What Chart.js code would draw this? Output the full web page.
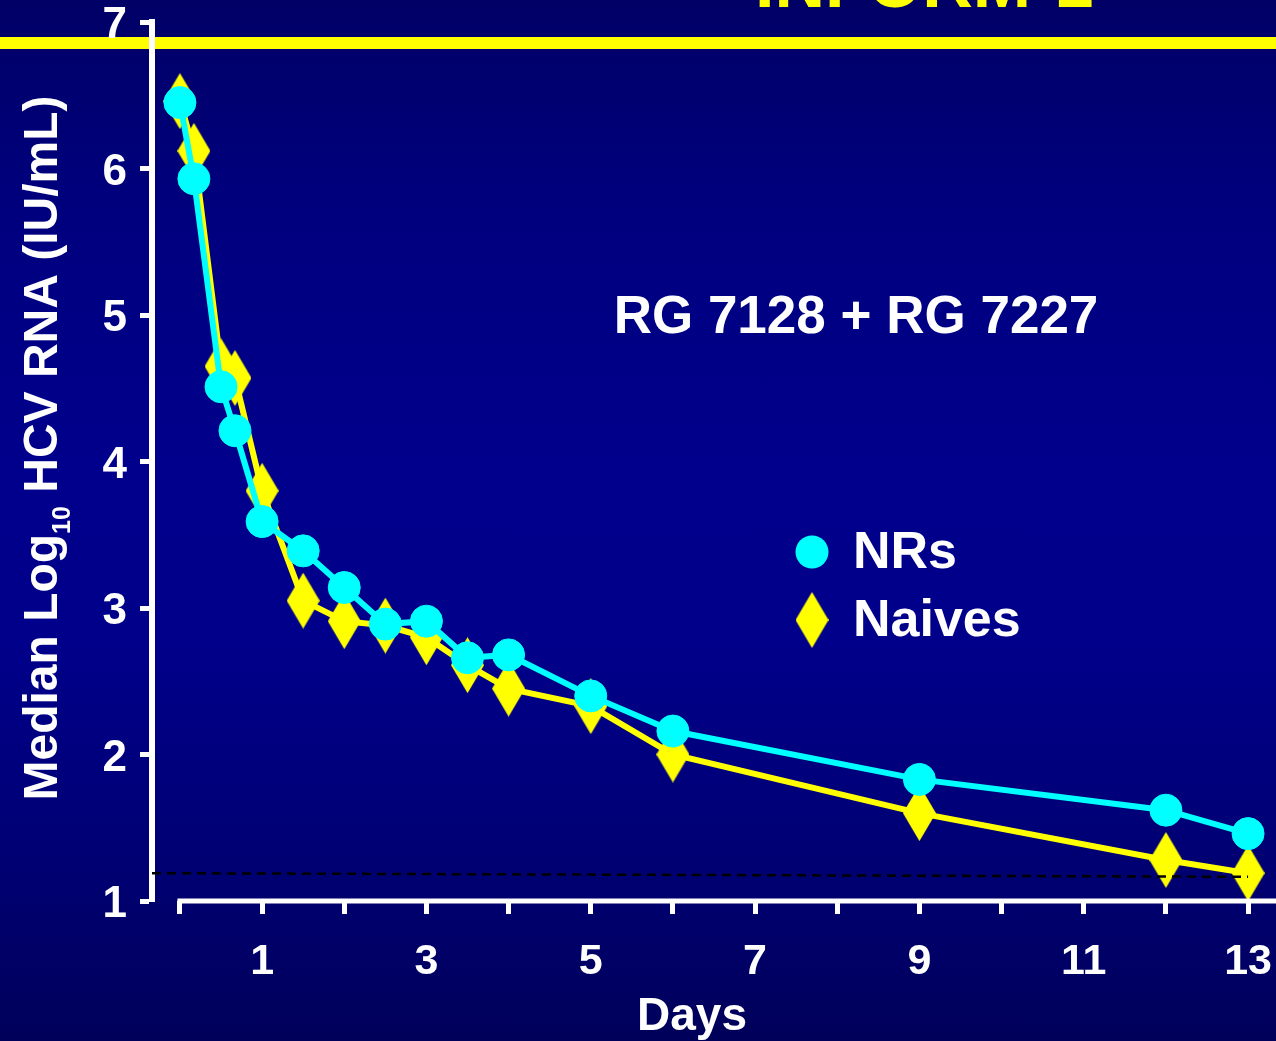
<!DOCTYPE html>
<html>
<head>
<meta charset="utf-8">
<script src="https://cdn.jsdelivr.net/npm/chart.js@4.4.1/dist/chart.umd.min.js"></script>
<style>
  html, body { margin: 0; padding: 0; }
  body {
    width: 1276px; height: 1041px; overflow: hidden;
    background: linear-gradient(to bottom, #000066 0%, #00007e 20%, #00008c 45%, #00008a 62%, #000070 85%, #00005a 100%);
  }
  canvas { display: block; }
</style>
</head>
<body>
<canvas id="chart" width="1276" height="1041"></canvas>
<script>
// Данные графика
const days = [0, 0.17, 0.5, 0.67, 1, 1.5, 2, 2.5, 3, 3.5, 4, 5, 6, 9, 12, 13];
const nrValues = [6.45, 5.93, 4.51, 4.21, 3.59, 3.39, 3.14, 2.89, 2.91, 2.66, 2.68, 2.40, 2.16, 1.83, 1.62, 1.46];
const naiveValues = [6.46, 6.12, 4.65, 4.57, 3.80, 3.05, 2.91, 2.88, 2.80, 2.61, 2.45, 2.33, 2.00, 1.60, 1.28, 1.19];
const lloqDays = [-0.34, 13];
const lloqValues = [1.19, 1.165];
const xTicks = [0, 1, 2, 3, 4, 5, 6, 7, 8, 9, 10, 11, 12, 13];
const xTickLabels = ['', '1', '', '3', '', '5', '', '7', '', '9', '', '11', '', '13'];
const yTicks = [1, 2, 3, 4, 5, 6, 7];

const FONT = '"Liberation Sans", Arial, Helvetica, sans-serif';
const WHITE = '#ffffff';
const CYAN = '#00ffff';
const YELLOW = '#ffff00';

// Ромб для маркеров (вытянутый по вертикали)
function makeDiamond(w, h, color) {
    const c = document.createElement('canvas');
    c.width = w;
    c.height = h;
    const g = c.getContext('2d');
    g.fillStyle = color;
    g.beginPath();
    g.moveTo(w / 2, 0);
    g.lineTo(w, h / 2);
    g.lineTo(w / 2, h);
    g.lineTo(0, h / 2);
    g.closePath();
    g.fill();
    return c;
}
const diamond = makeDiamond(33, 56, YELLOW);

function toPoints(xs, ys) {
    return xs.map((x, i) => ({ x: x, y: ys[i] }));
}

// Фон: жёлтая полоса и обрезанный заголовок
const backdrop = {
    id: 'backdrop',
    beforeDraw(chart) {
        const ctx = chart.ctx;
        ctx.save();
        ctx.fillStyle = YELLOW;
        ctx.fillRect(0, 37, chart.width, 12);
        ctx.font = 'bold 70px ' + FONT;
        ctx.textAlign = 'left';
        ctx.textBaseline = 'alphabetic';
        ctx.fillText('INFORM-1', 755, 7);
        ctx.restore();
    }
};

// Оси, подписи, легенда
const decorations = {
    id: 'decorations',
    afterDraw(chart) {
        const ctx = chart.ctx;
        const x = chart.scales.x;
        const area = chart.chartArea;
        ctx.save();

        // ось X начинается от нуля
        ctx.strokeStyle = WHITE;
        ctx.lineWidth = 5;
        ctx.beginPath();
        ctx.moveTo(x.getPixelForValue(0) - 2.5, area.bottom);
        ctx.lineTo(chart.width, area.bottom);
        ctx.stroke();

        ctx.fillStyle = WHITE;
        ctx.textAlign = 'center';
        ctx.textBaseline = 'alphabetic';
        ctx.font = 'bold 46px ' + FONT;
        ctx.fillText('Days', 692, 1030);

        // подпись оси Y с индексом
        ctx.save();
        ctx.translate(57, 448);
        ctx.rotate(-Math.PI / 2);
        const big = 'bold 48px ' + FONT;
        const small = 'bold 25px ' + FONT;
        const p1 = 'Median Log';
        const p2 = '10';
        const p3 = ' HCV RNA (IU/mL)';
        ctx.font = big;
        const w1 = ctx.measureText(p1).width;
        const w3 = ctx.measureText(p3).width;
        ctx.font = small;
        const w2 = ctx.measureText(p2).width;
        let sx = -(w1 + w2 + w3) / 2;
        ctx.textAlign = 'left';
        ctx.font = big;
        ctx.fillText(p1, sx, 0);
        ctx.font = small;
        ctx.fillText(p2, sx + w1, 13);
        ctx.font = big;
        ctx.fillText(p3, sx + w1 + w2, 0);
        ctx.restore();

        // надпись препаратов
        ctx.font = 'bold 53px ' + FONT;
        ctx.textAlign = 'center';
        ctx.fillText('RG 7128 + RG 7227', 856, 333);

        // легенда
        ctx.fillStyle = CYAN;
        ctx.beginPath();
        ctx.arc(812, 552, 16.5, 0, Math.PI * 2);
        ctx.fill();
        ctx.drawImage(diamond, 812 - diamond.width / 2, 620 - diamond.height / 2);
        ctx.fillStyle = WHITE;
        ctx.textAlign = 'left';
        ctx.font = 'bold 52px ' + FONT;
        ctx.fillText('NRs', 853, 568);
        ctx.fillText('Naives', 853, 636);

        ctx.restore();
    }
};

const ctx = document.getElementById('chart').getContext('2d');
const myChart = new Chart(ctx, {
    type: 'line',
    data: {
        datasets: [
            {
                label: 'LLOQ',
                data: toPoints(lloqDays, lloqValues),
                borderColor: '#000000',
                borderWidth: 2.5,
                borderDash: [9, 6],
                pointRadius: 0,
                clip: false
            },
            {
                label: 'NRs',
                data: toPoints(days, nrValues),
                borderColor: CYAN,
                backgroundColor: CYAN,
                borderWidth: 6,
                pointStyle: 'circle',
                pointRadius: 16,
                pointBorderWidth: 1,
                pointBackgroundColor: CYAN,
                pointBorderColor: CYAN,
                tension: 0,
                clip: false
            },
            {
                label: 'Naives',
                data: toPoints(days, naiveValues),
                borderColor: YELLOW,
                backgroundColor: YELLOW,
                borderWidth: 6,
                pointStyle: diamond,
                pointRadius: 16,
                tension: 0,
                clip: false
            }
        ]
    },
    options: {
        responsive: false,
        animation: false,
        devicePixelRatio: 1,
        layout: {
            autoPadding: false,
            padding: { top: 22, left: 0, right: 0, bottom: 0 }
        },
        scales: {
            x: {
                type: 'linear',
                min: -0.34,
                max: 13.34,
                afterBuildTicks: axis => { axis.ticks = xTicks.map(v => ({ value: v })); },
                afterFit: axis => {
                    axis.height = 140;
                    axis.paddingLeft = 0;
                    axis.paddingRight = 0;
                },
                border: { display: false },
                grid: {
                    drawOnChartArea: false,
                    drawTicks: true,
                    tickLength: 13,
                    tickWidth: 5,
                    color: WHITE
                },
                ticks: {
                    autoSkip: false,
                    maxRotation: 0,
                    padding: 22,
                    color: WHITE,
                    font: { family: FONT, size: 43, weight: 'bold' },
                    callback: (v) => xTickLabels[xTicks.indexOf(v)]
                }
            },
            y: {
                min: 1,
                max: 7,
                afterBuildTicks: axis => { axis.ticks = yTicks.map(v => ({ value: v })); },
                afterFit: axis => {
                    axis.width = 152;
                    axis.paddingTop = 0;
                    axis.paddingBottom = 0;
                },
                border: { display: true, color: WHITE, width: 6 },
                grid: {
                    drawOnChartArea: false,
                    drawTicks: true,
                    tickLength: 12,
                    tickWidth: 5,
                    color: WHITE
                },
                ticks: {
                    padding: 13,
                    labelOffset: 4,
                    color: WHITE,
                    font: { family: FONT, size: 44, weight: 'bold' }
                }
            }
        },
        plugins: {
            legend: { display: false },
            tooltip: { enabled: false }
        }
    },
    plugins: [backdrop, decorations]
});
</script>
</body>
</html>
